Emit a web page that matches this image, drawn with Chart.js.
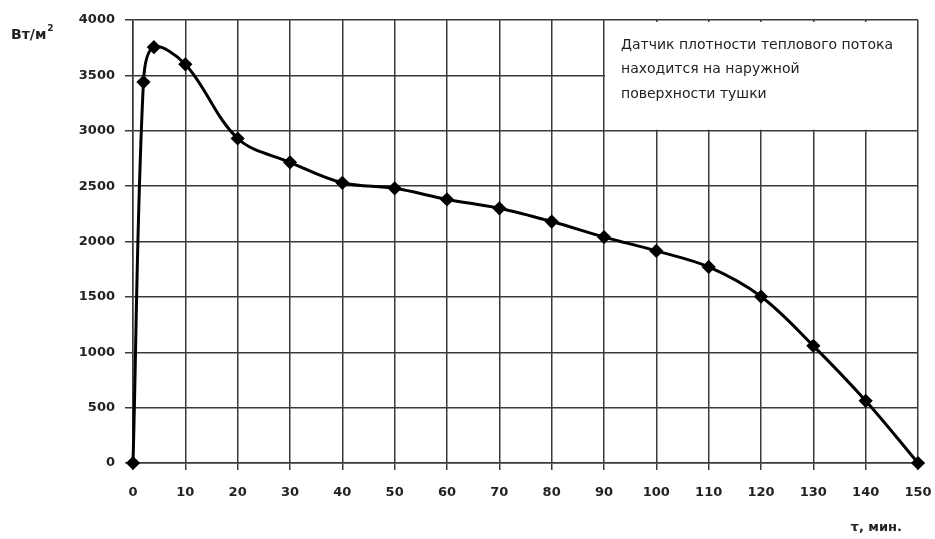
<!DOCTYPE html>
<html lang="ru">

<head>
  <meta charset="UTF-8">
  <title>Плотность теплового потока</title>
  <script src="https://cdn.jsdelivr.net/npm/chart.js"></script>
  <style>
    body { margin: 0; background: #fff; }
    #wrap { width: 935px; height: 539px; }
  </style>
</head>

<body>
  <div id="wrap"><canvas id="fluxChart" width="935" height="539"></canvas></div>

  <script>
    // время, мин и плотность теплового потока, Вт/м2
    const minutes = [0, 2, 4, 10, 20, 30, 40, 50, 60, 70, 80, 90, 100, 110, 120, 130, 140, 150];
    const flux = [0, 3440, 3755, 3600, 2930, 2715, 2530, 2480, 2380, 2300, 2180, 2040, 1915, 1770, 1503, 1058, 562, 0];

    const xTicks = [0, 10, 20, 30, 40, 50, 60, 70, 80, 90, 100, 110, 120, 130, 140, 150];
    const yTicks = [0, 500, 1000, 1500, 2000, 2500, 3000, 3500, 4000];
    const noteLines = ['Датчик плотности теплового потока', 'находится на наружной', 'поверхности тушки'];

    const gridColor = '#3a3a3a';
    const tickFont = { family: 'DejaVu Sans', size: 13, weight: 'bold' };

    // note box + axis titles
    const extras = {
      id: 'extras',
      beforeDatasetsDraw(chart) {
        const { ctx, scales: { x, y } } = chart;
        const left = x.getPixelForValue(90), right = x.getPixelForValue(150);
        const top = y.getPixelForValue(4000), bottom = y.getPixelForValue(3000);
        ctx.save();
        ctx.fillStyle = '#fff';
        ctx.fillRect(left + 1, top + 2, right - left - 2, bottom - top - 3);
        ctx.fillStyle = '#222';
        ctx.font = '14px "DejaVu Sans"';
        ctx.textBaseline = 'middle';
        noteLines.forEach((t, i) => ctx.fillText(t, left + 17, top + 25 + i * 24.5));
        ctx.restore();
      },
      afterDraw(chart) {
        const { ctx, chartArea } = chart;
        ctx.save();
        ctx.fillStyle = '#222';
        ctx.textBaseline = 'middle';
        ctx.font = 'bold 14px "DejaVu Sans"';
        ctx.fillText('Вт/м', 11, 35);
        const w = ctx.measureText('Вт/м').width;
        ctx.font = 'bold 9px "DejaVu Sans"';
        ctx.fillText('2', 11 + w + 1, 29);
        ctx.font = 'bold 13px "DejaVu Sans"';
        ctx.textAlign = 'right';
        ctx.fillText('τ, мин.', chartArea.right - 16, 528);
        ctx.restore();
      }
    };

    const ctx = document.getElementById('fluxChart').getContext('2d');
    new Chart(ctx, {
      type: 'line',
      data: {
        labels: minutes,
        datasets: [{
          data: minutes.map((m, i) => ({ x: m, y: flux[i] })),
          borderColor: '#000',
          backgroundColor: '#000',
          borderWidth: 3,
          tension: 0.35,
          pointStyle: 'rectRot',
          pointRadius: 5,
          pointBackgroundColor: '#000',
          pointBorderColor: '#000',
          clip: false
        }]
      },
      options: {
        responsive: false,
        animation: false,
        events: [],
        layout: { padding: { left: 0, top: 20, right: 17, bottom: 0 } },
        plugins: {
          legend: { display: false },
          tooltip: { enabled: false }
        },
        scales: {
          x: {
            type: 'linear',
            min: 0,
            max: 150,
            afterBuildTicks: s => { s.ticks = xTicks.map(v => ({ value: v })); },
            afterFit: s => { s.height = 76; s.paddingLeft = 0; s.paddingRight = 0; },
            grid: { color: gridColor, lineWidth: 1.5, tickLength: 7 },
            border: { color: gridColor, width: 1.5 },
            ticks: { color: '#222', font: tickFont, padding: 15, maxRotation: 0, callback: v => String(v) }
          },
          y: {
            min: 0,
            max: 4000,
            afterBuildTicks: s => { s.ticks = yTicks.map(v => ({ value: v })); },
            afterFit: s => { s.width = 133; s.paddingTop = 0; s.paddingBottom = 0; },
            grid: { color: gridColor, lineWidth: 1.5, tickLength: 8 },
            border: { color: gridColor, width: 1.5 },
            ticks: { color: '#222', font: tickFont, padding: 10, callback: v => String(v) }
          }
        }
      },
      plugins: [extras]
    });
  </script>
</body>

</html>
